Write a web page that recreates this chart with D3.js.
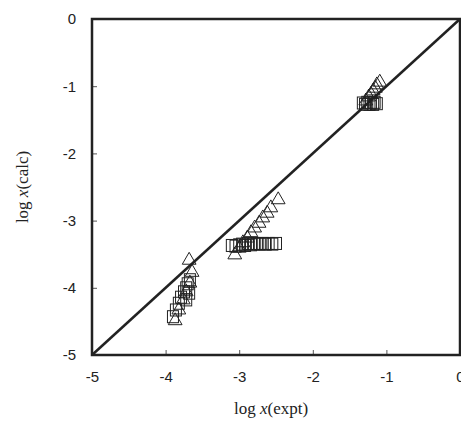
<!DOCTYPE html>
<html>
<head>
<meta charset="utf-8">
<script src="https://cdn.jsdelivr.net/npm/d3@7"></script>
<style>
  body { margin: 0; background: #fff; }
  svg { display: block; }
  .tick text { font-family: "Liberation Sans", Arial, sans-serif; font-size: 15px; fill: #222; }
  .axis-title { font-family: "Liberation Serif", "Times New Roman", serif; font-size: 17px; fill: #222; }
</style>
</head>
<body>
<svg id="chart" width="461" height="422"></svg>
<script>
// data (log x expt, log x calc)
const TICKS = [-5, -4, -3, -2, -1, 0]

const triExpt = [-3.87, -3.82, -3.76, -3.72, -3.67, -3.64, -3.68,
  -3.06, -3.00, -2.95, -2.89, -2.84, -2.79, -2.73, -2.68, -2.62, -2.57, -2.47,
  -1.28, -1.24, -1.21, -1.18, -1.15, -1.13, -1.09]
const triCalc = [-4.49, -4.33, -4.18, -4.06, -3.93, -3.77, -3.59,
  -3.51, -3.41, -3.33, -3.26, -3.18, -3.11, -3.04, -2.96, -2.89, -2.81, -2.69,
  -1.22, -1.16, -1.12, -1.07, -1.03, -0.98, -0.94]

const sqExpt = [-3.90, -3.86, -3.82, -3.79, -3.75, -3.72, -3.70, -3.67, -3.68, -3.72,
  -3.10, -3.05, -3.00, -2.96, -2.92, -2.88, -2.84, -2.80, -2.76, -2.72, -2.68, -2.64, -2.60, -2.55, -2.50,
  -1.32, -1.29, -1.26, -1.23, -1.21, -1.18, -1.16, -1.13]
const sqCalc = [-4.43, -4.33, -4.23, -4.14, -4.06, -4.00, -3.94, -3.88, -4.08, -4.18,
  -3.37, -3.38, -3.36, -3.35, -3.37, -3.34, -3.36, -3.35, -3.34, -3.35, -3.34, -3.35, -3.34, -3.35, -3.34,
  -1.25, -1.27, -1.24, -1.27, -1.25, -1.27, -1.24, -1.26]

const svg = d3.select('#chart')
const mLeft = 92, mRight = 460, mTop = 19, mBottom = 355

const x = d3.scaleLinear().domain([-5, 0]).range([mLeft, mRight])
const y = d3.scaleLinear().domain([-5, 0]).range([mBottom, mTop])

// axes with inward ticks, plain hyphen minus
svg.append('g')
  .attr('transform', `translate(0,${mBottom})`)
  .call(d3.axisBottom(x).tickValues(TICKS).tickSize(-5).tickPadding(16).tickFormat(d => String(d)))
  .call(g => g.select('.domain').remove())
  .call(g => g.selectAll('.tick line').attr('stroke', '#555'))

svg.append('g')
  .attr('transform', `translate(${mLeft},0)`)
  .call(d3.axisLeft(y).tickValues(TICKS).tickSize(-5).tickPadding(16).tickFormat(d => String(d)))
  .call(g => g.select('.domain').remove())
  .call(g => g.selectAll('.tick line').attr('stroke', '#555'))

// frame
svg.append('rect')
  .attr('x', mLeft).attr('y', mTop)
  .attr('width', mRight - mLeft).attr('height', mBottom - mTop)
  .attr('fill', 'none').attr('stroke', '#222').attr('stroke-width', 2.5)

// 1:1 line
svg.append('line')
  .attr('x1', x(-5)).attr('y1', y(-5))
  .attr('x2', x(0)).attr('y2', y(0))
  .attr('stroke', '#222').attr('stroke-width', 2.5)

// squares
svg.append('g').selectAll('rect')
  .data(d3.range(sqExpt.length))
  .enter().append('rect')
  .attr('x', i => x(sqExpt[i]) - 5.5)
  .attr('y', i => y(sqCalc[i]) - 6)
  .attr('width', 11).attr('height', 12)
  .attr('fill', 'none').attr('stroke', '#222').attr('stroke-width', 1)

// triangles
const tri = d3.symbol().type(d3.symbolTriangle).size(82)
svg.append('g').selectAll('path')
  .data(d3.range(triExpt.length))
  .enter().append('path')
  .attr('d', tri)
  .attr('transform', i => `translate(${x(triExpt[i])},${y(triCalc[i])})`)
  .attr('fill', 'none').attr('stroke', '#222').attr('stroke-width', 1)

// axis titles
const xt = svg.append('text').attr('class', 'axis-title')
  .attr('x', 271).attr('y', 414).attr('text-anchor', 'middle')
xt.append('tspan').text('log ')
xt.append('tspan').attr('font-style', 'italic').text('x')
xt.append('tspan').text('(expt)')

const yt = svg.append('text').attr('class', 'axis-title')
  .attr('transform', 'translate(28,187) rotate(-90)').attr('text-anchor', 'middle')
yt.append('tspan').text('log ')
yt.append('tspan').attr('font-style', 'italic').text('x')
yt.append('tspan').text('(calc)')
</script>
</body>
</html>
